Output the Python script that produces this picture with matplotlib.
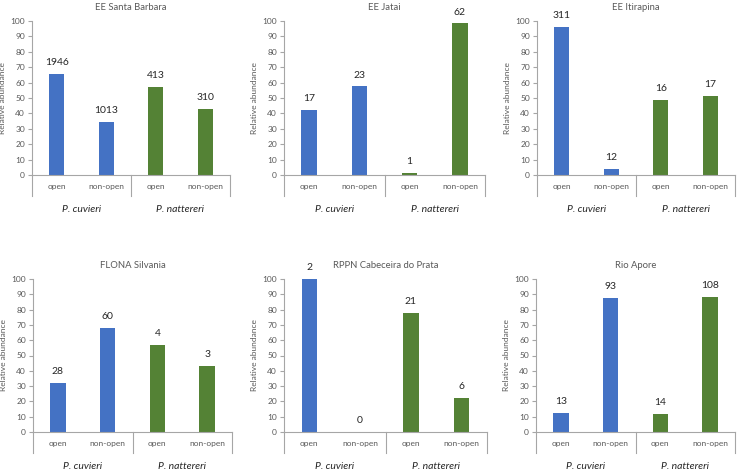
import numpy as np
import matplotlib.pyplot as plt
from matplotlib.transforms import blended_transform_factory, offset_copy

plt.rcParams['font.family'] = ['Lato', 'DejaVu Sans']

sites = ['EE Santa Barbara', 'EE Jatai', 'EE Itirapina',
         'FLONA Silvania', 'RPPN Cabeceira do Prata', 'Rio Apore']
categories = ['open', 'non-open', 'open', 'non-open']
species = ['P. cuvieri', 'P. nattereri']

# relative abundance (%) per site: cuvieri open, cuvieri non-open, nattereri open, nattereri non-open
rel_abund = [
    [65.8, 34.2, 57.1, 42.9],
    [42.5, 57.5, 1.6, 98.4],
    [96.3, 3.7, 48.5, 51.5],
    [31.8, 68.2, 57.1, 42.9],
    [100.0, 0.0, 77.8, 22.2],
    [12.3, 87.7, 11.5, 88.5],
]
# number of individuals shown above bars
counts = [
    [1946, 1013, 413, 310],
    [17, 23, 1, 62],
    [311, 12, 16, 17],
    [28, 60, 4, 3],
    [2, 0, 21, 6],
    [13, 93, 14, 108],
]

blue = '#4472C4'
green = '#548235'
bar_colors = [blue, blue, green, green]
txt = '#595959'
axcol = '#A6A6A6'

W, H = 740, 472
# axes boxes in pixels: left, right, top (y=100), bottom (y=0)
boxes = [
    (32, 230, 21, 175), (284, 485, 21, 175), (537, 735, 21, 175),
    (33, 232, 279, 432), (284, 487, 279, 432), (536, 735, 279, 432),
]

fig = plt.figure(figsize=(7.4, 4.72), dpi=100)

for i, (l, r, t, b) in enumerate(boxes):
    ax = fig.add_axes([l / W, 1 - b / H, (r - l) / W, (b - t) / H])
    x = np.arange(4)
    ax.bar(x, rel_abund[i], width=0.31, color=bar_colors)
    for xi, v, c in zip(x, rel_abund[i], counts[i]):
        ax.annotate(str(c), (xi, v), xytext=(0, 5), textcoords='offset points',
                    ha='center', va='bottom', fontsize=7.5, color='#262626')
    ax.set_xlim(-0.5, 3.5)
    ax.set_ylim(0, 100)
    ax.set_yticks(np.arange(0, 101, 10))
    ax.set_xticks([])
    ax.tick_params(axis='y', labelsize=6, colors=axcol, labelcolor=txt,
                   length=3, width=0.8, pad=2)
    for s in ['top', 'right']:
        ax.spines[s].set_visible(False)
    for s in ['left', 'bottom']:
        ax.spines[s].set_color(axcol)
        ax.spines[s].set_linewidth(0.8)
    ax.set_ylabel('Relative abundance', fontsize=6, color=txt, labelpad=3)
    ax.annotate(sites[i], (0.5, 1), xycoords='axes fraction', xytext=(0, 10),
                textcoords='offset points', ha='center', va='center',
                fontsize=6.8, color=txt)

    trans = blended_transform_factory(ax.transData, ax.transAxes)
    for xi, cat in zip(x, categories):
        ax.text(xi, 0, cat, transform=offset_copy(trans, fig=fig, y=-8, units='points'),
                ha='center', va='center', fontsize=6, color=txt)
    for gx, name in zip([0.5, 2.5], species):
        ax.text(gx, 0, name, transform=offset_copy(trans, fig=fig, y=-25, units='points'),
                ha='center', va='center', fontsize=7.5, style='italic', color='#262626')
    # separators below the axis
    for sx in [-0.5, 1.5, 3.5]:
        ax.plot([sx, sx], [0, -0.135], color=axcol, lw=0.8, clip_on=False,
                transform=trans)

fig.savefig('out.png', dpi=100)
